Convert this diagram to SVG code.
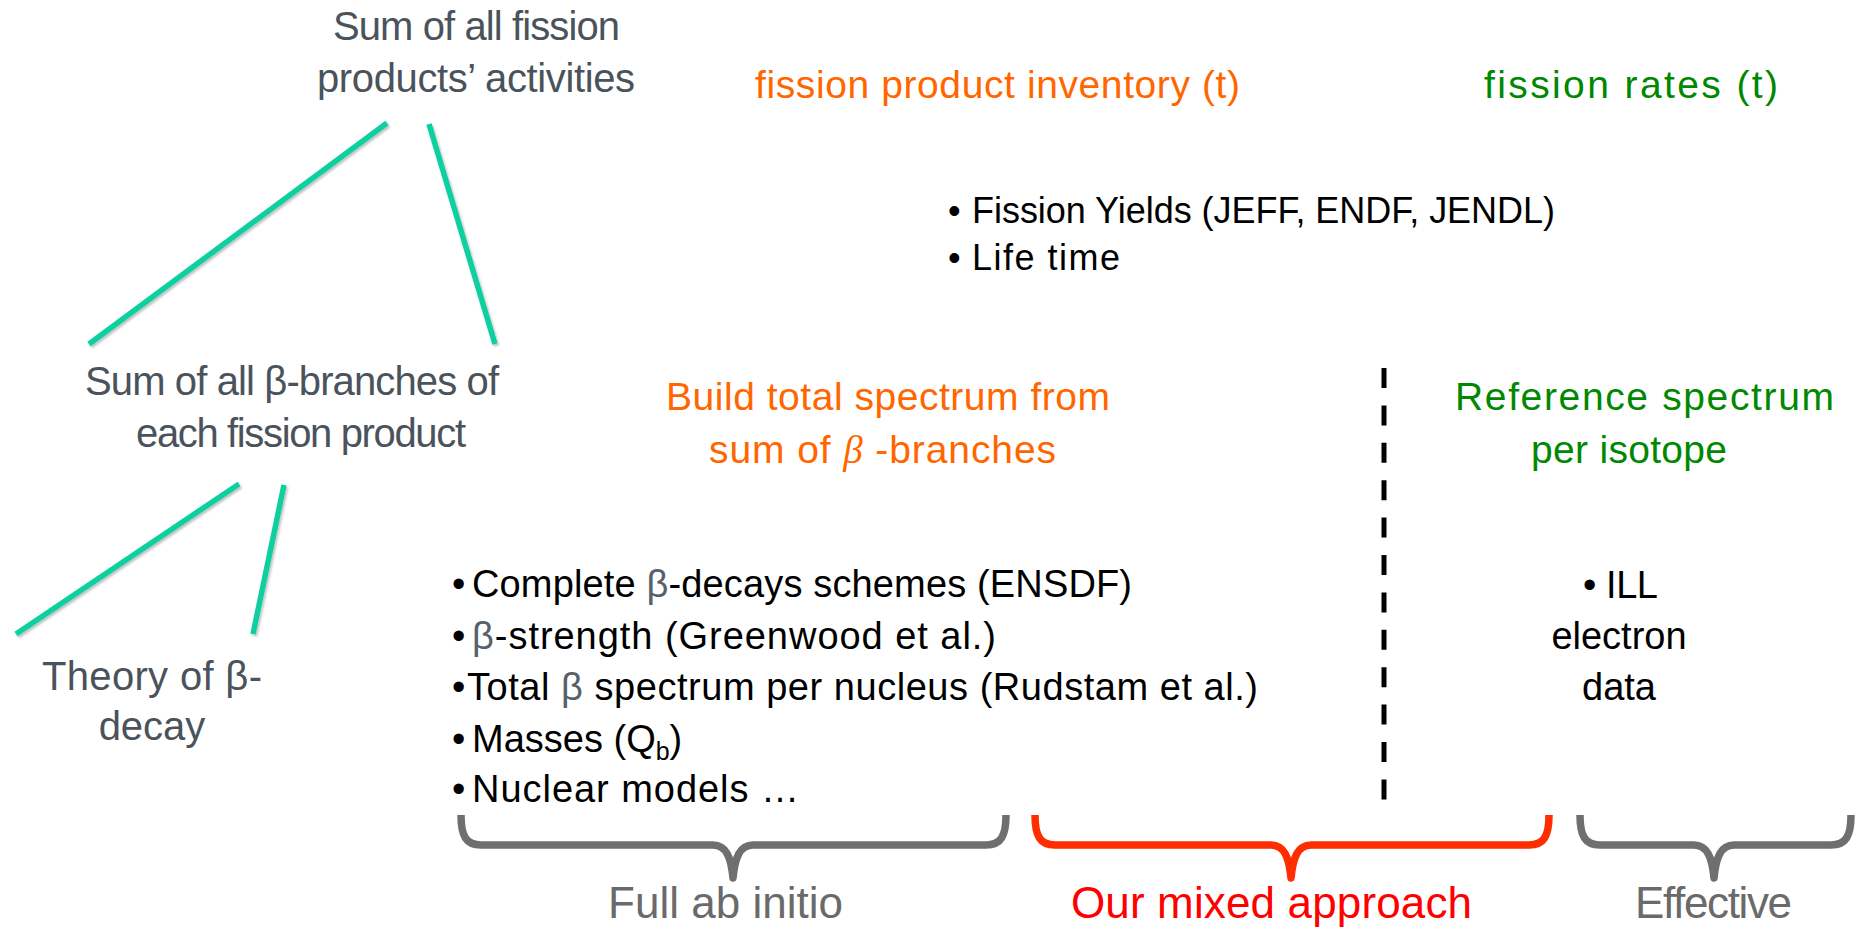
<svg xmlns="http://www.w3.org/2000/svg" width="1858" height="930" viewBox="0 0 1858 930">
  <style>
    text { font-family: "Liberation Sans", Arial, sans-serif; }
    .tree { fill: #4a535b; font-size: 40px; }
    .orange { fill: #ff6600; font-size: 39px; }
    .green { fill: #008800; font-size: 39px; }
    .body { fill: #000000; font-size: 38px; }
    .top { fill: #000000; font-size: 36px; }
    .beta { fill: #56616b; }
    .label { font-size: 44px; }
    .link { stroke: #0fcf9f; stroke-width: 5.5; stroke-linecap: butt; fill: none; }
    .brace { fill: none; stroke-width: 7.5; stroke-linejoin: round; stroke-linecap: butt; }
  </style>
  <defs>
    <filter id="soft" x="-10%" y="-10%" width="120%" height="120%">
      <feDropShadow dx="1.5" dy="2" stdDeviation="1.2" flood-color="#000" flood-opacity="0.25"/>
    </filter>
  </defs>
  <rect width="1858" height="930" fill="#ffffff"/>

  <!-- tree connectors -->
  <g id="connectors" filter="url(#soft)">
    <line class="link" x1="387" y1="123" x2="89" y2="344"/>
    <line class="link" x1="429" y1="124" x2="495" y2="344"/>
    <line class="link" x1="239" y1="484" x2="16" y2="634"/>
    <line class="link" x1="284" y1="485" x2="253" y2="634"/>
  </g>

  <!-- tree nodes -->
  <g id="node-activities">
    <text class="tree" x="333" y="40" textLength="287">Sum of all fission</text>
    <text class="tree" x="317" y="92" textLength="318">products’ activities</text>
  </g>
  <g id="node-branches">
    <text class="tree" x="85" y="395" textLength="414">Sum of all β-branches of</text>
    <text class="tree" x="136" y="447" font-size="37" textLength="330">each fission product</text>
  </g>
  <g id="node-theory">
    <text class="tree" x="42" y="690" textLength="220">Theory of β-</text>
    <text class="tree" x="152" y="740" text-anchor="middle" font-size="38">decay</text>
  </g>

  <!-- upper headings -->
  <g id="node-inventory">
    <text class="orange" x="755" y="98" textLength="485">fission product inventory (t)</text>
  </g>
  <g id="node-rates">
    <text class="green" x="1484" y="98" textLength="294">fission rates (t)</text>
  </g>
  <g id="node-yields">
    <text class="top" x="948" y="223">•</text>
    <text class="top" x="972" y="223" textLength="583">Fission Yields (JEFF, ENDF, JENDL)</text>
    <text class="top" x="948" y="270">•</text>
    <text class="top" x="972" y="270" textLength="148">Life time</text>
  </g>

  <!-- summation approach -->
  <g id="node-build">
    <text class="orange" x="666" y="410" textLength="444">Build total spectrum from</text>
    <text class="orange" x="709" y="463" textLength="347">sum of <tspan font-family="'Liberation Serif', serif" font-style="italic">β</tspan> -branches</text>
  </g>
  <g id="node-inputs">
    <text class="body" x="452" y="597">•</text>
    <text class="body" x="472" y="597" textLength="660">Complete <tspan class="beta">β</tspan>-decays schemes (ENSDF)</text>
    <text class="body" x="452" y="649">•</text>
    <text class="body" x="472" y="649" textLength="524"><tspan class="beta">β</tspan>-strength (Greenwood et al.)</text>
    <text class="body" x="452" y="700">•</text>
    <text class="body" x="467" y="700" textLength="791">Total <tspan class="beta">β</tspan> spectrum per nucleus (Rudstam et al.)</text>
    <text class="body" x="452" y="752">•</text>
    <text class="body" x="472" y="752">Masses (Q<tspan font-size="25" dy="8">b</tspan><tspan dy="-8">)</tspan></text>
    <text class="body" x="452" y="802">•</text>
    <text class="body" x="472" y="802" textLength="327">Nuclear models …</text>
  </g>

  <!-- divider -->
  <g id="divider">
    <line x1="1384" y1="368" x2="1384" y2="800" stroke="#000" stroke-width="5" stroke-dasharray="20 17.4"/>
  </g>

  <!-- effective approach -->
  <g id="node-reference">
    <text class="green" x="1455" y="410" textLength="379">Reference spectrum</text>
    <text class="green" x="1531" y="463" textLength="196">per isotope</text>
  </g>
  <g id="node-ill">
    <text class="body" x="1583" y="598">•</text>
    <text class="body" x="1606" y="598" textLength="52">ILL</text>
    <text class="body" x="1619" y="649" text-anchor="middle">electron</text>
    <text class="body" x="1619" y="700" text-anchor="middle">data</text>
  </g>

  <!-- grouping braces -->
  <g id="braces">
    <path class="brace" stroke="#6f6f6f" d="M461,815 C461,836 466,845 481,845 L713,845 C726,845 731,857 733,878 C735,857 740,845 753,845 L986,845 C1001,845 1006,836 1006,815"/>
    <path class="brace" stroke="#ff2d00" d="M1035,815 C1035,836 1040,845 1055,845 L1271,845 C1284,845 1289,857 1291,878 C1293,857 1298,845 1311,845 L1529,845 C1544,845 1549,836 1549,815"/>
    <path class="brace" stroke="#6f6f6f" d="M1580,815 C1580,836 1585,845 1600,845 L1694,845 C1707,845 1712,857 1714,878 C1716,857 1721,845 1734,845 L1831,845 C1846,845 1851,836 1851,815"/>
  </g>

  <!-- brace labels -->
  <g id="label-abinitio">
    <text class="label" x="608" y="918" fill="#6a6a6a" textLength="235">Full ab initio</text>
  </g>
  <g id="label-mixed">
    <text class="label" x="1071" y="918" fill="#ff0000" textLength="401">Our mixed approach</text>
  </g>
  <g id="label-effective">
    <text class="label" x="1635" y="918" fill="#6a6a6a" textLength="157">Effective</text>
  </g>
</svg>
